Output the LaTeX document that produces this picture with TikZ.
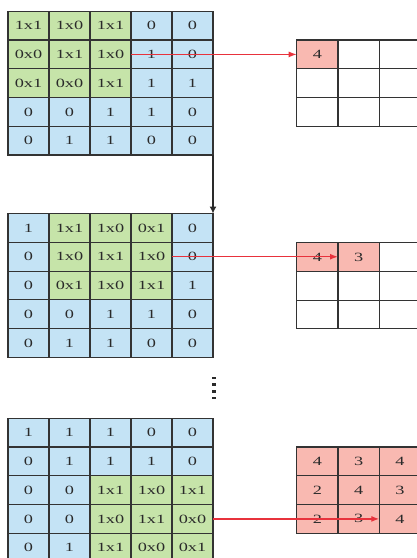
\documentclass[tikz,border=0pt]{standalone}
\usepackage{fontspec}
\setmainfont{Liberation Serif}
\usetikzlibrary{arrows.meta}

\definecolor{cellblue}{HTML}{C4E3F5}
\definecolor{cellgreen}{HTML}{C6E4A9}
\definecolor{cellred}{HTML}{F9B9B1}
\definecolor{gridline}{HTML}{333333}
\definecolor{arrowred}{HTML}{E8323C}
\definecolor{ink}{HTML}{2A2A2A}

% wide-set cell labels
\newcommand{\widetext}[1]{\scalebox{1.45}[1]{#1}}

% one row of cells: #1 grid name, #2 row index, #3 left x, #4 top y, #5 cell width, #6 col/style/text list
\newcommand{\cellrow}[6]{%
  \foreach \c/\s/\t in {#6} {
    \node[style=\s] (#1-#2-\c) at ({#3+#5*(\c-1)}, #4) {\widetext{\t}};
  }%
}

\tikzset{
  cell/.style={draw=gridline, line width=1.2pt, minimum width=41pt,
    minimum height=28.75pt, inner sep=0pt, outer sep=0pt, anchor=north west,
    text=ink, font=\fontsize{12.6}{13}\selectfont},
  inp/.style={cell, fill=cellblue},
  win/.style={cell, fill=cellgreen},
  res/.style={cell, fill=white, minimum width=41.3pt},
  hit/.style={res, fill=cellred},
  slide/.style={draw=arrowred, line width=1.3pt, -{Latex[length=8pt,width=6pt]}},
  nextstep/.style={draw=ink, line width=1.4pt, -{Latex[length=7pt,width=7pt]}},
}

\begin{document}
\begin{tikzpicture}[x=1pt, y=-1pt]
\useasboundingbox (0,0) rectangle (417,558);

% ---- first position of the 3x3 window ----
\cellrow{a}{1}{8}{11.3}{41}{1/win/1x1, 2/win/1x0, 3/win/1x1, 4/inp/0, 5/inp/0}
\cellrow{a}{2}{8}{40.05}{41}{1/win/0x0, 2/win/1x1, 3/win/1x0, 4/inp/1, 5/inp/0}
\cellrow{a}{3}{8}{68.8}{41}{1/win/0x1, 2/win/0x0, 3/win/1x1, 4/inp/1, 5/inp/1}
\cellrow{a}{4}{8}{97.55}{41}{1/inp/0, 2/inp/0, 3/inp/1, 4/inp/1, 5/inp/0}
\cellrow{a}{5}{8}{126.3}{41}{1/inp/0, 2/inp/1, 3/inp/1, 4/inp/0, 5/inp/0}

\cellrow{p}{1}{296.7}{40}{41.3}{1/hit/4, 2/res/, 3/res/}
\cellrow{p}{2}{296.7}{68.75}{41.3}{1/res/, 2/res/, 3/res/}
\cellrow{p}{3}{296.7}{97.5}{41.3}{1/res/, 2/res/, 3/res/}

% ---- window shifted one column ----
\cellrow{b}{1}{8}{213.6}{41}{1/inp/1, 2/win/1x1, 3/win/1x0, 4/win/0x1, 5/inp/0}
\cellrow{b}{2}{8}{242.35}{41}{1/inp/0, 2/win/1x0, 3/win/1x1, 4/win/1x0, 5/inp/0}
\cellrow{b}{3}{8}{271.1}{41}{1/inp/0, 2/win/0x1, 3/win/1x0, 4/win/1x1, 5/inp/1}
\cellrow{b}{4}{8}{299.85}{41}{1/inp/0, 2/inp/0, 3/inp/1, 4/inp/1, 5/inp/0}
\cellrow{b}{5}{8}{328.6}{41}{1/inp/0, 2/inp/1, 3/inp/1, 4/inp/0, 5/inp/0}

\cellrow{q}{1}{296.7}{242.6}{41.3}{1/hit/4, 2/hit/3, 3/res/}
\cellrow{q}{2}{296.7}{271.35}{41.3}{1/res/, 2/res/, 3/res/}
\cellrow{q}{3}{296.7}{300.1}{41.3}{1/res/, 2/res/, 3/res/}

% ---- last position of the window ----
\cellrow{c}{1}{8}{418.3}{41}{1/inp/1, 2/inp/1, 3/inp/1, 4/inp/0, 5/inp/0}
\cellrow{c}{2}{8}{447.05}{41}{1/inp/0, 2/inp/1, 3/inp/1, 4/inp/1, 5/inp/0}
\cellrow{c}{3}{8}{475.8}{41}{1/inp/0, 2/inp/0, 3/win/1x1, 4/win/1x0, 5/win/1x1}
\cellrow{c}{4}{8}{504.55}{41}{1/inp/0, 2/inp/0, 3/win/1x0, 4/win/1x1, 5/win/0x0}
\cellrow{c}{5}{8}{533.3}{41}{1/inp/0, 2/inp/1, 3/win/1x1, 4/win/0x0, 5/win/0x1}

\cellrow{r}{1}{296.7}{447}{41.3}{1/hit/4, 2/hit/3, 3/hit/4}
\cellrow{r}{2}{296.7}{475.75}{41.3}{1/hit/2, 2/hit/4, 3/hit/3}
\cellrow{r}{3}{296.7}{504.5}{41.3}{1/hit/2, 2/hit/3, 3/hit/4}

% ---- connectors ----
\draw[nextstep] (a-5-5.south east) -- (b-1-5.north east);
\draw[slide] (a-2-3.east) -- (a-2-3.east -| p-1-1.west);
\draw[slide] (b-2-4.east) -- (b-2-4.east -| q-1-2.west);
\draw[slide] (c-4-5.east) -- (c-4-5.east -| r-3-3.west);

% vertical ellipsis between the stages
\foreach \y in {378,384.7,391.3,398}
  \fill[ink] (211.8,\y-1.4) rectangle (216.2,\y+1.4);
\end{tikzpicture}
\end{document}
